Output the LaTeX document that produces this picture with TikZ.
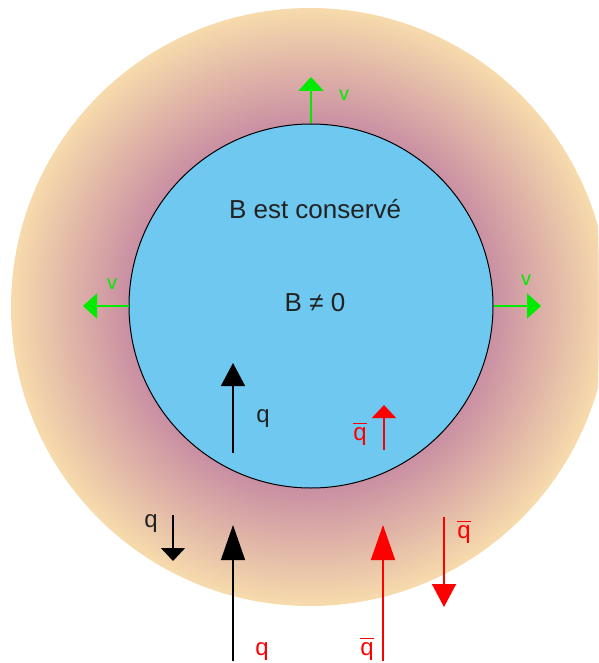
\documentclass[tikz,border=0pt]{standalone}
\usepackage{fontspec}
\setmainfont{Liberation Sans}
\usetikzlibrary{arrows.meta}
\definecolor{mauve}{RGB}{201,143,163}
\definecolor{tanc}{RGB}{247,219,172}
\definecolor{skyb}{RGB}{110,200,240}
\definecolor{vgreen}{RGB}{0,235,0}
\definecolor{txt}{RGB}{34,34,34}
\newcommand{\qb}{\vbox{\hrule height 1.5pt\kern 3pt\hbox{q}}}
\tikzset{
  varrow/.style={draw=vgreen, line width=1.8pt, -{Triangle[width=25pt,length=14pt]}, vgreen},
  barrow/.style={draw=black, line width=1.4pt, -{Triangle[width=24pt,length=#1]}},
  rarrow/.style={draw=red, line width=1.6pt, -{Triangle[width=24pt,length=#1]}, red},
  vlab/.style={text=vgreen, font=\fontsize{20}{24}\selectfont, anchor=base, inner sep=0pt},
  qlab/.style={font=\fontsize{24}{28}\selectfont, anchor=base, inner sep=0pt},
  btext/.style={text=txt, font=\fontsize{26}{30}\selectfont, anchor=base, inner sep=0pt}
}
\begin{document}
\begin{tikzpicture}[x=1pt,y=-1pt]
\useasboundingbox (0,0) rectangle (598,663);
\clip (0,0) rectangle (598,663);
\foreach \i in {0,...,117}{
  \pgfmathsetmacro{\rr}{299-\i}
  \pgfmathsetmacro{\pp}{100*(117-\i)/117}
  \fill[tanc!\pp!mauve] (310,307) circle[radius=\rr];
}
\node[circle, draw=black, fill=skyb, minimum size=364pt, inner sep=0pt, line width=1pt] (core) at (311,306) {};
% texts
\node[btext] (t1) at (315,218) {B est conservé};
\node[btext] (t2) at (315,311) {B ≠ 0};
% green arrows
\coordinate (vt) at (311,77);
\coordinate (vl) at (83,306);
\coordinate (vr) at (541,306);
\draw[varrow] (core.north) -- (vt);
\draw[varrow] (core.west) -- (vl);
\draw[varrow] (core.east) -- (vr);
\node[vlab] (lvt) at (344,101) {v};
\node[vlab] (lvl) at (112,289) {v};
\node[vlab] (lvr) at (526,285) {v};
% inner arrows
\coordinate (a1s) at (233,453); \coordinate (a1e) at (233,363);
\draw[barrow=23pt] (a1s) -- (a1e);
\node[qlab, text=txt] (l1) at (263,422) {q};
\coordinate (a2s) at (384,450); \coordinate (a2e) at (384,405);
\draw[rarrow=13pt] (a2s) -- (a2e);
\node[qlab, text=red] (l2) at (360,440) {\qb};
% bottom arrows
\coordinate (a3s) at (173,515); \coordinate (a3e) at (173,561);
\draw[barrow=13pt] (a3s) -- (a3e);
\node[qlab, text=txt] (l3) at (151,527) {q};
\coordinate (a4s) at (233,661); \coordinate (a4e) at (233,525);
\draw[barrow=35pt] (a4s) -- (a4e);
\node[qlab, text=red] (l4) at (262,655) {q};
\coordinate (a5s) at (383,661); \coordinate (a5e) at (383,525);
\draw[rarrow=35pt] (a5s) -- (a5e);
\node[qlab, text=red] (l5) at (367,655) {\qb};
\coordinate (a6s) at (444,517); \coordinate (a6e) at (444,607);
\draw[rarrow=23pt] (a6s) -- (a6e);
\node[qlab, text=red] (l6) at (464,538) {\qb};
\end{tikzpicture}
\end{document}
